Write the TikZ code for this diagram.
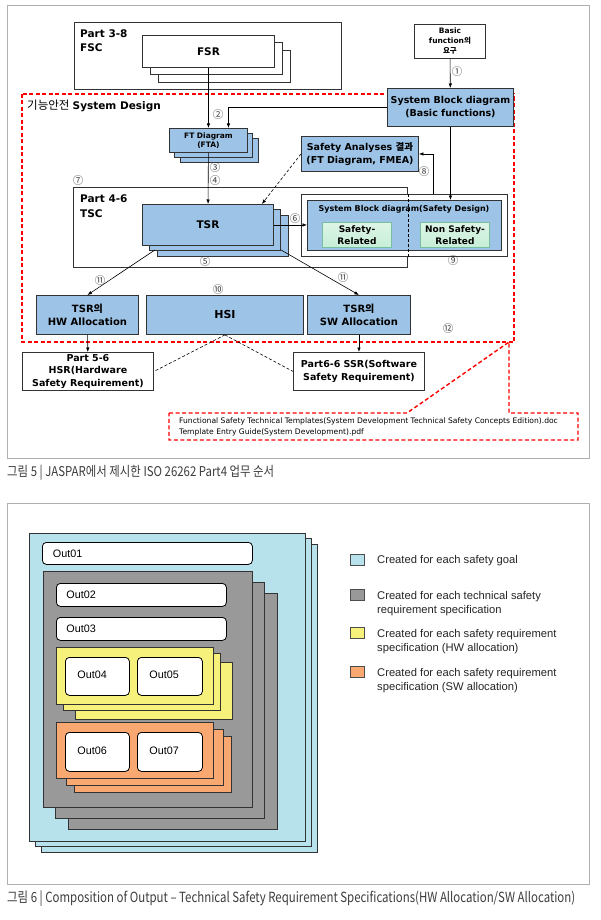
\documentclass[tikz,border=0pt]{standalone}
\usepackage{fontspec}
\usepackage{graphicx}
\setmainfont{DejaVu Sans}
\newfontfamily\krfont{Noto Sans CJK KR}
\newfontfamily\arialfont{Liberation Sans}
\usetikzlibrary{positioning, arrows.meta}
\definecolor{blockblue}{RGB}{157,195,230}
\definecolor{safegreen}{RGB}{198,238,214}
\definecolor{safeline}{RGB}{120,190,160}
\definecolor{goalblue}{RGB}{183,225,235}
\definecolor{specgray}{RGB}{153,153,153}
\definecolor{hwyellow}{RGB}{246,241,122}
\definecolor{sworange}{RGB}{248,168,112}
\definecolor{framegray}{RGB}{175,175,175}
\definecolor{captiongray}{RGB}{60,60,60}
\newcommand{\kor}[1]{{\krfont #1}}
\newcommand{\fsz}[2]{\fontsize{#1}{#2}\selectfont}

\begin{document}
\begin{tikzpicture}[x=1pt, y=-1pt,
    box/.style={rectangle, draw=black!80, line width=0.9pt, anchor=north west,
                inner sep=0pt, align=center},
    blockbox/.style={box, fill=blockblue},
    plainbox/.style={box, fill=white},
    greenbox/.style={box, draw=safeline, top color=safegreen!60, bottom color=safegreen, line width=1pt},
    stackcopy/.style={draw=black!80, line width=0.9pt},
    arr/.style={-{Latex[length=4.5pt, width=3.5pt]}, line width=0.6pt},
    num/.style={inner sep=0pt, text=black!75, font=\krfont\fsz{10.5}{10.5}},
    reddash/.style={draw=red, line width=1.4pt, dash pattern=on 4pt off 2.5pt},
    outbox/.style={rectangle, draw, line width=0.8pt, rounded corners=4pt, fill=white,
                   anchor=north west, inner ysep=0pt, align=left,
                   font=\arialfont\fsz{10.8}{12}},
    legkey/.style={draw=black!70, line width=0.5pt},
    legtext/.style={anchor=north west, inner sep=0pt, align=left,
                    font=\arialfont\fsz{11.2}{14.5}, text=black!85}
]
\useasboundingbox (0,0) rectangle (600,920);

% Figure 5 frame
\draw[framegray, line width=0.8pt, fill=white] (7,5) rectangle (589,458);

% Part 3-8 FSC
\node[plainbox, minimum width=267pt, minimum height=67pt] (fsc) at (74,22) {};
\node[anchor=north west, inner sep=0pt, align=left, font=\bfseries\fsz{10.5}{14}] (fsctxt) at (80,30) {Part 3-8\\FSC};

% System Design region
\draw[reddash] (22,94) rectangle (514,342);
\node[anchor=west, inner sep=0pt] (sdtxt) at (27,106) {\kor{\fsz{11.5}{12}기능안전} {\bfseries\fsz{10.5}{12}System Design}};

% FSR stack
\foreach \n in {2,1}
    \draw[stackcopy, fill=white] (142+8*\n, 35+7.5*\n) rectangle ++(132,32);
\node[plainbox, minimum width=132pt, minimum height=32pt, font=\bfseries\fsz{10.5}{12}] (fsr) at (142,35) {FSR};

% Basic functions
\node[plainbox, minimum width=71pt, minimum height=34pt, font=\bfseries\fsz{7.5}{10}] (basic) at (414,24) {Basic\\function\kor{의}\\\kor{요구}};
\node[blockbox, minimum width=126pt, minimum height=38pt, font=\bfseries\fsz{9.5}{13}] (sbd) at (387,88) {System Block diagram\\(Basic functions)};

% FT Diagram stack
\foreach \n in {2,1}
    \draw[stackcopy, fill=blockblue] (169+5.5*\n, 128+5*\n) rectangle ++(78,24);
\node[blockbox, minimum width=78pt, minimum height=24pt, font=\bfseries\fsz{7.5}{9}] (fta) at (169,128) {FT Diagram\\(FTA)};

% Part 4-6 TSC
\node[plainbox, minimum width=334pt, minimum height=80pt] (tsc) at (73,187) {};
\node[anchor=north west, inner sep=0pt, align=left, font=\bfseries\fsz{10.5}{15}] (tsctxt) at (80,194.5) {Part 4-6\\TSC};

% TSR stack
\foreach \n in {2,1}
    \draw[stackcopy, fill=blockblue] (142+7.5*\n, 204+5.5*\n) rectangle ++(131,41);
\node[blockbox, minimum width=131pt, minimum height=41pt, font=\bfseries\fsz{10.5}{12}] (tsr) at (142,204) {TSR};

% Safety analyses
\node[blockbox, minimum width=117pt, minimum height=35pt, font=\bfseries\fsz{9.5}{13}] (sa) at (301,136) {Safety Analyses \kor{결과}\\(FT Diagram, FMEA)};

% Safety design block
\node[plainbox, minimum width=206pt, minimum height=62pt] (sdout) at (301,194) {};
\node[blockbox, minimum width=194pt, minimum height=50pt] (sdin) at (307,200) {};
\node[inner sep=0pt, font=\bfseries\fsz{8}{10}] (sdtitle) at (404,209.5) {System Block diagram(Safety Design)};
\node[greenbox, minimum width=69pt, minimum height=25pt, font=\bfseries\fsz{9}{11.5}] (safe) at (322,222) {Safety-\\Related};
\node[greenbox, minimum width=69pt, minimum height=25pt, font=\bfseries\fsz{9}{11.5}] (nonsafe) at (420,222) {Non Safety-\\Related};
\draw[line width=0.6pt, densely dashed] (tsc.north east |- sdout.north) -- (tsc.north east |- sdout.south);

% Allocation
\node[blockbox, minimum width=102pt, minimum height=39pt, font=\bfseries\fsz{10}{13}] (hw) at (36,295) {TSR\kor{의}\\HW Allocation};
\node[blockbox, minimum width=157pt, minimum height=39pt, font=\bfseries\fsz{11}{12}] (hsi) at (146,295) {HSI};
\node[blockbox, minimum width=103pt, minimum height=39pt, font=\bfseries\fsz{10}{13}] (sw) at (307,295) {TSR\kor{의}\\SW Allocation};
\node[plainbox, minimum width=131pt, minimum height=38pt, font=\bfseries\fsz{9.5}{12.5}] (hsr) at (22,352) {Part 5-6\\HSR(Hardware\\Safety Requirement)};
\node[plainbox, minimum width=131pt, minimum height=38pt, font=\bfseries\fsz{9.5}{13}] (ssr) at (293,352) {Part6-6 SSR(Software\\Safety Requirement)};

% Template callout
\coordinate (tip) at (509,342);
\draw[reddash] (169,413) -- (407,413) -- (tip) -- (509,413) -- (578,413) -- (578,440) -- (169,440) -- cycle;
\node[anchor=north west, inner sep=0pt, align=left, font=\fsz{7.6}{11}] (tmpl) at (179,418) {Functional Safety Technical Templates(System Development Technical Safety Concepts Edition).doc\\Template Entry Guide(System Development).pdf};

% Flow
\draw[arr] (basic) -- (sbd);
\draw[arr] (fsr) -- (fta);
\draw[arr] (sbd.west) -| ([xshift=20pt]fta.north);
\draw[arr] (fta) -- (tsr);
\draw[arr] (sbd.south) -- (sbd.south |- sdin.north);
\draw[arr] ([xshift=29pt]sdout.north) |- (sa.east);
\draw[arr] (tsr.east) -- (tsr.east -| sdin.west);
\draw[arr, densely dashed] (sa.west) -- ([xshift=-12pt]tsr.north east);
\draw[arr] ([shift={(13pt,-4pt)}]tsr.south west) -- (hw.north);
\draw[arr] ([shift={(7pt,-4pt)}]tsr.south east) -- (sw.north);
\draw[arr] (hw) -- (hsr);
\draw[arr] (sw) -- (ssr);
\draw[densely dashed, line width=0.6pt] (hsi.south) -- (hsr.east);
\draw[densely dashed, line width=0.6pt] (hsi.south) -- (ssr.west);

% Step numbers
\node[num] (n1) at (457,72) {①};
\node[num] (n2) at (218,115) {②};
\node[num] (n3) at (215,168) {③};
\node[num] (n4) at (215,181) {④};
\node[num] (n5) at (205,262) {⑤};
\node[num] (n6) at (295,219) {⑥};
\node[num] (n7) at (78,181) {⑦};
\node[num] (n8) at (424,172) {⑧};
\node[num] (n9) at (453,261) {⑨};
\node[num] (n10) at (218,290) {⑩};
\node[num] (n11a) at (100,281) {⑪};
\node[num] (n11b) at (343,278) {⑪};
\node[num] (n12) at (448,329) {⑫};

\node[anchor=west, inner sep=0pt, text=captiongray] (cap5) at (7,473) {\resizebox{267pt}{\height}{\krfont\fsz{13.5}{14}그림 5 | JASPAR에서 제시한 ISO 26262 Part4 업무 순서}};

% Figure 6 frame
\draw[framegray, line width=0.8pt, fill=white] (7,503) rectangle (589,884);

% Safety goal stack
\foreach \dx/\dy in {12/11, 6/5.5}
    \draw[stackcopy, fill=goalblue] (29+\dx, 533+\dy) rectangle ++(276,308);
\draw[stackcopy, fill=goalblue] (29,533) rectangle ++(276,308);
\node[outbox, text width=189pt, inner xsep=10.5pt, minimum height=22pt] (out1) at (42,542) {Out01};

% Technical safety requirement stack
\foreach \dx/\dy in {25/22, 12.5/11}
    \draw[stackcopy, fill=specgray] (43+\dx, 571+\dy) rectangle ++(209,236);
\draw[stackcopy, fill=specgray] (43,571) rectangle ++(209,236);
\node[outbox, text width=150pt, inner xsep=10pt, minimum height=23pt] (out2) at (56,583) {Out02};
\node[outbox, text width=150pt, inner xsep=10pt, minimum height=23pt] (out3) at (56,617) {Out03};

% HW allocation stack
\foreach \dx/\dy in {19/15, 7.5/6.5}
    \draw[stackcopy, fill=hwyellow] (56+\dx, 647+\dy) rectangle ++(157,57);
\draw[stackcopy, fill=hwyellow] (56,647) rectangle ++(157,57);
\node[outbox, text width=40pt, inner xsep=12pt, minimum height=38pt] (out4) at (65,657) {\raisebox{3pt}{Out04}};
\node[outbox, text width=41pt, inner xsep=12pt, minimum height=38pt] (out5) at (137,657) {\raisebox{3pt}{Out05}};

% SW allocation stack
\foreach \dx/\dy in {18.5/14.5, 10/7}
    \draw[stackcopy, fill=sworange] (56+\dx, 722+\dy) rectangle ++(157,56);
\draw[stackcopy, fill=sworange] (56,722) rectangle ++(157,56);
\node[outbox, text width=40pt, inner xsep=12pt, minimum height=39pt] (out6) at (65,732) {\raisebox{3pt}{Out06}};
\node[outbox, text width=41pt, inner xsep=12pt, minimum height=39pt] (out7) at (137,732) {\raisebox{3pt}{Out07}};

% Legend
\foreach \y/\c in {554/goalblue, 589/specgray, 627/hwyellow, 666/sworange}
    \draw[legkey, fill=\c] (350,\y) rectangle ++(14,11);
\node[legtext] (leg1) at (377,555) {Created for each safety goal};
\node[legtext] (leg2) at (377,591) {Created for each technical safety\\requirement specification};
\node[legtext] (leg3) at (377,629) {Created for each safety requirement\\specification (HW allocation)};
\node[legtext] (leg4) at (377,668) {Created for each safety requirement\\specification (SW allocation)};

\node[anchor=west, inner sep=0pt, text=captiongray] (cap6) at (7,899) {\resizebox{568pt}{\height}{\krfont\fsz{14}{14}그림 6 | Composition of Output – Technical Safety Requirement Specifications(HW Allocation/SW Allocation)}};
\end{tikzpicture}
\end{document}
